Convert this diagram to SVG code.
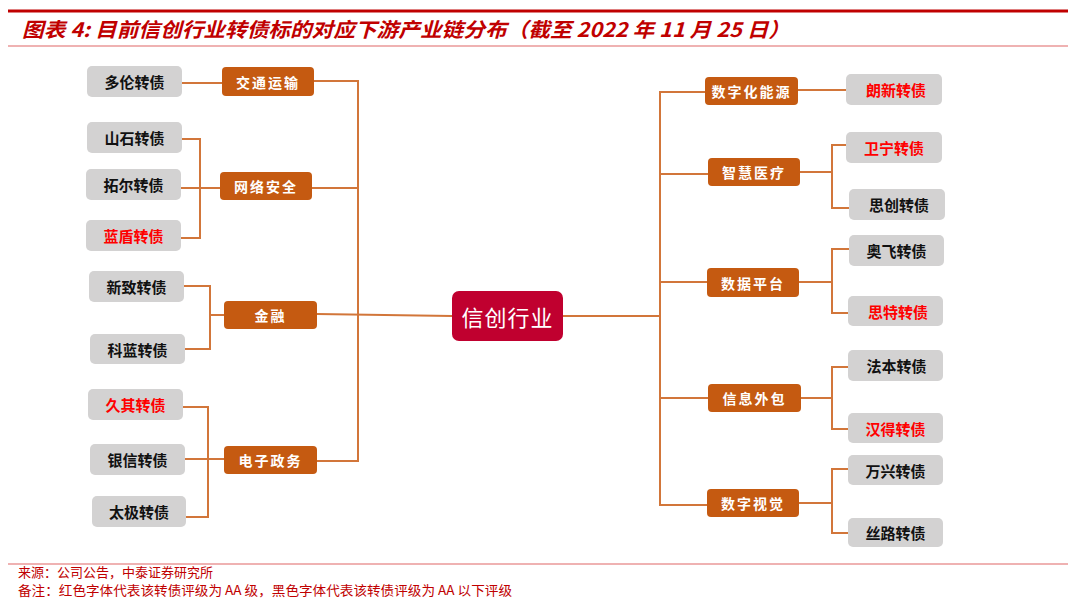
<svg xmlns="http://www.w3.org/2000/svg" width="1080" height="603" viewBox="0 0 1080 603">
<style>
.t{font-family:"Noto Sans CJK SC","Noto Sans",sans-serif}
.g{fill:#D3D2D2}
.o{fill:#C55A11}
.gt{font-size:15px;font-weight:bold;fill:#111;text-anchor:middle;dominant-baseline:central}
.rt{fill:#FF0000}
.ot{font-size:14px;font-weight:bold;fill:#fff;text-anchor:middle;dominant-baseline:central;letter-spacing:2px}
.c{fill:none;stroke:#D2763A;stroke-width:2}
</style>
<rect width="1080" height="603" fill="#fff"/>
<line x1="8" y1="11" x2="1068" y2="11" stroke="#C00000" stroke-width="3"/>
<line x1="8" y1="46" x2="1068" y2="46" stroke="#E06666" stroke-width="1.2"/>
<text class="t" x="22" y="37" font-size="20" font-weight="bold" font-style="italic" fill="#C00000" textLength="768" lengthAdjust="spacingAndGlyphs">图表 4:  目前信创行业转债标的对应下游产业链分布（截至 2022 年 11 月 25 日）</text>
<line x1="8" y1="564" x2="1068" y2="564" stroke="#E06666" stroke-width="1.2"/>
<text class="t" x="18" y="577" font-size="13" fill="#C00000">来源：公司公告，中泰证券研究所</text>
<text class="t" x="18" y="595" font-size="13" fill="#C00000" textLength="494" lengthAdjust="spacingAndGlyphs">备注：红色字体代表该转债评级为 AA 级，黑色字体代表该转债评级为 AA 以下评级</text>

<g id="connectors">
<path class="c" d="M182,83H222"/>
<path class="c" d="M314,81H358V461H317"/>
<path class="c" d="M312,188H358"/>
<path class="c" d="M182,139H200V238H181"/>
<path class="c" d="M181,188H220"/>
<path class="c" d="M184,286H210V349H185"/>
<path class="c" d="M210,315H224"/>
<path class="c" d="M317,314L452,316"/>
<path class="c" d="M183,407H208V517H186"/>
<path class="c" d="M185,459H224"/>
<path class="c" d="M563,316H661"/>
<path class="c" d="M705,92H660V505H707"/>
<path class="c" d="M798,90H846"/>
<path class="c" d="M660,174H708"/>
<path class="c" d="M800,172H832"/>
<path class="c" d="M846,145H832V208H849"/>
<path class="c" d="M660,282H707"/>
<path class="c" d="M799,282H832"/>
<path class="c" d="M849,249H832V313H848"/>
<path class="c" d="M660,398H708"/>
<path class="c" d="M801,398H832"/>
<path class="c" d="M848,367H832V429H848"/>
<path class="c" d="M799,503H832"/>
<path class="c" d="M848,469H832V533H848"/>
</g>

<g id="center"><rect x="452" y="291" width="111" height="50" rx="7" fill="#C0002F"/><text class="t" x="507.5" y="316" font-size="22" fill="#fff" text-anchor="middle" dominant-baseline="central" letter-spacing="1">信创行业</text></g>

<g id="jiaotong"><rect class="o" x="222" y="67" width="92" height="29" rx="4"/><text class="t ot" x="268" y="81.5">交通运输</text></g>
<g id="wangluo"><rect class="o" x="220" y="172" width="92" height="28" rx="4"/><text class="t ot" x="266" y="186">网络安全</text></g>
<g id="jinrong"><rect class="o" x="224" y="301" width="93" height="28" rx="4"/><text class="t ot" x="270.5" y="315">金融</text></g>
<g id="dianzi"><rect class="o" x="224" y="446" width="93" height="28" rx="4"/><text class="t ot" x="270.5" y="460">电子政务</text></g>

<g id="duolun"><rect class="g" x="87" y="66" width="95" height="31" rx="5"/><text class="t gt" x="134.5" y="81.5">多伦转债</text></g>
<g id="shanshi"><rect class="g" x="87" y="122" width="95" height="31" rx="5"/><text class="t gt" x="134.5" y="137.5">山石转债</text></g>
<g id="tuoer"><rect class="g" x="86" y="169" width="95" height="31" rx="5"/><text class="t gt" x="133.5" y="184.5">拓尔转债</text></g>
<g id="landun"><rect class="g" x="86" y="220" width="95" height="31" rx="5"/><text class="t gt rt" x="133.5" y="235.5">蓝盾转债</text></g>
<g id="xinzhi"><rect class="g" x="89" y="271" width="95" height="31" rx="5"/><text class="t gt" x="136.5" y="286.5">新致转债</text></g>
<g id="kelan"><rect class="g" x="90" y="334" width="95" height="30" rx="5"/><text class="t gt" x="137.5" y="349">科蓝转债</text></g>
<g id="jiuqi"><rect class="g" x="88" y="389" width="95" height="31" rx="5"/><text class="t gt rt" x="135.5" y="404.5">久其转债</text></g>
<g id="yinxin"><rect class="g" x="90" y="444" width="95" height="31" rx="5"/><text class="t gt" x="137.5" y="459.5">银信转债</text></g>
<g id="taiji"><rect class="g" x="92" y="496" width="94" height="31" rx="5"/><text class="t gt" x="139" y="511.5">太极转债</text></g>

<g id="shuzihua"><rect class="o" x="705" y="77" width="93" height="28" rx="4"/><text class="t ot" x="751.5" y="91">数字化能源</text></g>
<g id="zhihui"><rect class="o" x="708" y="158" width="92" height="28" rx="4"/><text class="t ot" x="754" y="172">智慧医疗</text></g>
<g id="shuju"><rect class="o" x="707" y="268" width="92" height="29" rx="4"/><text class="t ot" x="753" y="282.5">数据平台</text></g>
<g id="xinxi"><rect class="o" x="708" y="384" width="93" height="28" rx="4"/><text class="t ot" x="754.5" y="398">信息外包</text></g>
<g id="shijue"><rect class="o" x="707" y="489" width="92" height="28" rx="4"/><text class="t ot" x="753" y="503">数字视觉</text></g>

<g id="langxin"><rect class="g" x="846" y="74" width="96" height="31" rx="5"/><text class="t gt rt" x="896" y="89.5">朗新转债</text></g>
<g id="weining"><rect class="g" x="846" y="132" width="96" height="31" rx="5"/><text class="t gt rt" x="894" y="147.5">卫宁转债</text></g>
<g id="sichuang"><rect class="g" x="849" y="189" width="96" height="31" rx="5"/><text class="t gt" x="899" y="204.5">思创转债</text></g>
<g id="aofei"><rect class="g" x="849" y="235" width="95" height="31" rx="5"/><text class="t gt" x="896.5" y="250.5">奥飞转债</text></g>
<g id="site"><rect class="g" x="848" y="296" width="95" height="30" rx="5"/><text class="t gt rt" x="898" y="311">思特转债</text></g>
<g id="faben"><rect class="g" x="848" y="350" width="95" height="31" rx="5"/><text class="t gt" x="896.5" y="365.5">法本转债</text></g>
<g id="hande"><rect class="g" x="848" y="413" width="95" height="30" rx="5"/><text class="t gt rt" x="895.5" y="428">汉得转债</text></g>
<g id="wanxing"><rect class="g" x="848" y="455" width="95" height="30" rx="5"/><text class="t gt" x="895.5" y="470">万兴转债</text></g>
<g id="silu"><rect class="g" x="848" y="518" width="95" height="29" rx="5"/><text class="t gt" x="895.5" y="532.5">丝路转债</text></g>
</svg>
